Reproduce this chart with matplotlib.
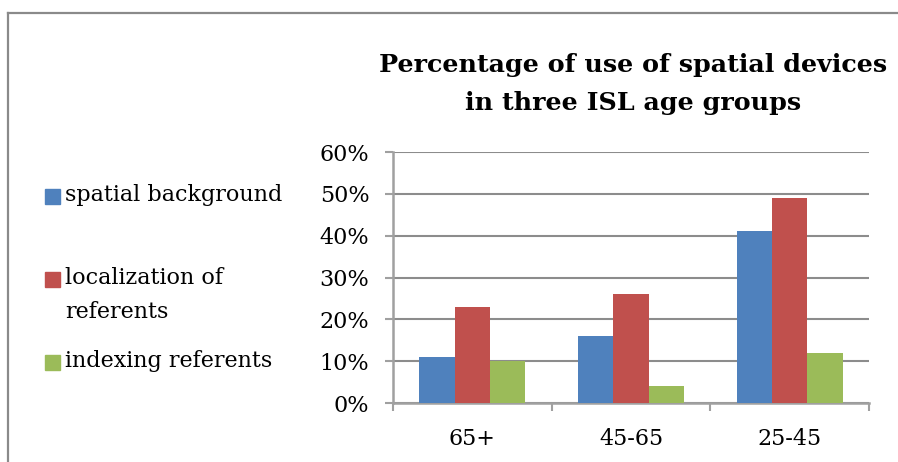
import numpy as np
import matplotlib.pyplot as plt
from matplotlib.patches import Rectangle
from matplotlib.lines import Line2D

groups = ['65+', '45-65', '25-45']
series = ['spatial background', 'localization of\nreferents', 'indexing referents']
spatial_background = [11, 16, 41]
localization = [23, 26, 49]
indexing = [10, 4, 12]
colors = ['#4F81BD', '#C0504D', '#9BBB59']
yticks = [0, 10, 20, 30, 40, 50, 60]

plt.rcParams['font.family'] = ['DejaVu Serif']

W, H = 898, 462
fig = plt.figure(figsize=(W / 100, H / 100), dpi=100)
ax = fig.add_axes([393 / W, 1 - 403 / H, (869 - 393) / W, (403 - 152) / H])

grid_col = '#8C8C8C'
x = np.arange(len(groups))
w = 1 / 4.5
for i, vals in enumerate([spatial_background, localization, indexing]):
    ax.bar(x + (i - 1) * w, vals, width=w, color=colors[i], zorder=3)

ax.set_xlim(-0.5, 2.5)
ax.set_ylim(0, 60)
ax.set_yticks(yticks)
ax.set_yticklabels([f'{v}%' for v in yticks], fontsize=16)
ax.yaxis.grid(True, color=grid_col, lw=1.5, zorder=0)
ax.set_xticks(x)
ax.set_xticklabels(groups, fontsize=16)
ax.set_xticks(np.arange(-0.5, 3, 1), minor=True)
ax.tick_params(axis='x', which='major', length=0, pad=18)
ax.tick_params(axis='x', which='minor', length=6, width=1.5, color='#A0A0A0')
ax.tick_params(axis='y', length=6, width=1.5, color='#A0A0A0', pad=11)
for s in ['top', 'right']:
    ax.spines[s].set_visible(False)
for s in ['left', 'bottom']:
    ax.spines[s].set_color('#A0A0A0')
    ax.spines[s].set_linewidth(1.8)

fig.text(633 / W, 1 - 84 / H, 'Percentage of use of spatial devices\nin three ISL age groups',
         ha='center', va='center', fontsize=18.3, fontweight='bold', linespacing=1.72)

# legend drawn by hand to keep Excel's uneven spacing
leg_y = [196, 279, 362]
for c, lab, yy in zip(colors, series, leg_y):
    fig.patches.append(Rectangle((45 / W, 1 - (yy + 7.5) / H), 15 / W, 15 / H,
                                 color=c, transform=fig.transFigure))
    fig.text(65 / W, 1 - (yy - 12) / H, lab, ha='left', va='top', fontsize=16,
             linespacing=1.72)

# chart border (cropped on right and bottom)
fig.add_artist(Line2D([8 / W, 8 / W], [0, 1 - 13 / H], color='#8A8A8A', lw=1.6))
fig.add_artist(Line2D([8 / W, 1], [1 - 13 / H, 1 - 13 / H], color='#8A8A8A', lw=1.6))

fig.savefig('out.png', dpi=100)
